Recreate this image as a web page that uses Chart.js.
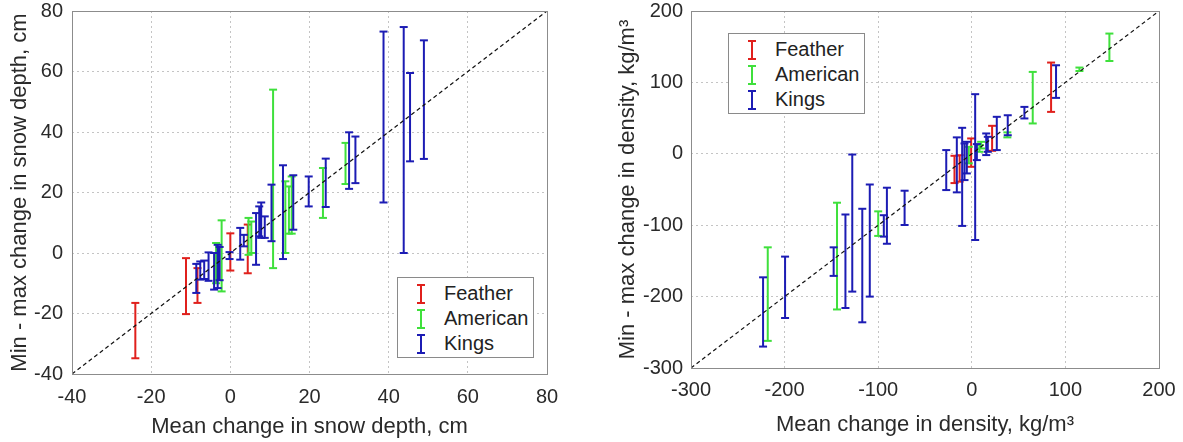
<!DOCTYPE html>
<html>
<head>
<meta charset="utf-8">
<script src="https://cdn.jsdelivr.net/npm/chart.js@4/dist/chart.umd.min.js"></script>
<style>
  body { margin: 0; background: #fff; font-family: "Liberation Sans", Arial, sans-serif; }
  #wrap { position: relative; width: 1183px; height: 442px; }
  canvas { position: absolute; top: 0; }
  .legend { position: absolute; background: #fff; border: 1px solid #8a8a8a; box-sizing: border-box;
            font-size: 20px; color: #222; }
  .legend div { position: absolute; height: 25px; line-height: 25px; white-space: nowrap; }
  .legend svg { position: absolute; top: 3px; }
  .legend span { position: absolute; }
</style>
</head>
<body>
<div id="wrap">
  <canvas id="depth" width="590" height="442" style="left:0"></canvas>
  <canvas id="density" width="593" height="442" style="left:590px"></canvas>
  <div class="legend" id="legDepth" style="left:397px;top:277px;width:137px;height:81px"></div>
  <div class="legend" id="legDensity" style="left:728px;top:33px;width:137px;height:81px"></div>
</div>
<script>
// snow depth panel (cm): mean, max, min for each bar
const depthFeatherMean = [-24, -11.2, -8.3, 0, 4.4];
const depthFeatherMax  = [-16.5, -1.7, -5, 6.5, 9.4];
const depthFeatherMin  = [-34.8, -20.2, -16.5, -5.8, -6.7];

const depthAmericanMean = [-3.6, -2.2, 4.6, 5.3, 10.8, 13.9, 14.8, 15.5, 23.4, 29.1];
const depthAmericanMax  = [3.3, 10.8, 11.6, 10.4, 54, 23.7, 22, 25.3, 28.1, 36.4];
const depthAmericanMin  = [-10, -12.7, -0.6, 0, -5, 0, 6.4, 6.4, 11.6, 22.8];

const depthKingsMean = [-8.6, -7.6, -6.6, -5.5, -4.1, -3.2, -2.7, -0.2, 2.5, 3.4, 6.5, 7.3, 7.8, 8.7, 10.4, 13.3, 15.9, 19.8, 24.1, 30, 31.6, 38.7, 43.8, 45.4, 48.9];
const depthKingsMax  = [-3.6, -2.8, -2.5, 0.2, 0, 2.7, 2, 0.3, 8.3, 6, 13.2, 15.4, 16.7, 12.1, 22.6, 29, 25.7, 25.3, 31.2, 39.9, 38.5, 73.2, 74.7, 59.5, 70.3];
const depthKingsMin  = [-13.2, -8.8, -8.6, -9.2, -12.1, -11.6, -9, -2, -2.2, 2.2, -3.9, 5.5, 5, 5, 3.9, -2, 7.7, 15.4, 15.2, 21.2, 23.1, 16.7, 0, 30.3, 31.1];

// density panel (kg/m3)
const densFeatherMean = [-18.5, -13, -0.7, 21.7, 84.7];
const densFeatherMax  = [-2.8, -2, 21.5, 39.2, 127.8];
const densFeatherMin  = [-41, -39, -18.2, 4.2, 58.7];

const densAmericanMean = [-218, -144, -100, -3.2, 8.2, 10, 38, 65.1, 115, 147];
const densAmericanMax  = [-131, -68.5, -80.6, 9.8, 12.2, 16.8, 30, 114.7, 120.8, 168.4];
const densAmericanMin  = [-262, -218, -115, -13.4, 2.8, 7.5, 23, 42.5, 116, 130];

const densKingsMean = [-223, -199.5, -147.6, -135, -127.7, -117, -109, -94, -90.7, -71.8, -27.3, -16, -10.3, -7.8, -5.3, 3.6, 5.4, 15.4, 17.1, 26.7, 38.4, 56.2, 90];
const densKingsMax  = [-173, -144, -131, -85, -1, -77, -43, -86, -47.5, -51.7, 5.2, 23, 36.4, 14.5, 16.8, 83.5, 13.6, 28.5, 23.8, 51.8, 54, 65.7, 124];
const densKingsMin  = [-270, -230, -171, -216, -193, -236, -200, -116, -126, -99.7, -50.8, -54, -101, -36.8, -27.5, -120.7, -8.8, -1.8, 2.8, 5.2, 26, 49.5, 78.3];

const seriesNames = ['Feather', 'American', 'Kings'];
const seriesColors = ['#e0201c', '#3fe03c', '#1c1cb4'];

const depthTicks = [-40, -20, 0, 20, 40, 60, 80];
const densTicks = [-300, -200, -100, 0, 100, 200];

// each bar: (mean,max) -> (mean,min) then a gap
function bars(mean, max, min) {
    const pts = [];
    for (let i = 0; i < mean.length; i++) {
        pts.push({x: mean[i], y: max[i]});
        pts.push({x: mean[i], y: min[i]});
        pts.push({x: mean[i], y: null});
    }
    return pts;
}

function barSet(label, color, data) {
    return {
        label: label,
        data: data,
        showLine: true,
        spanGaps: false,
        borderColor: color,
        borderWidth: 2,
        pointStyle: 'line',
        pointRadius: 4,
        pointBorderWidth: 2,
        pointBorderColor: color,
        pointBackgroundColor: color
    };
}

function oneToOne(lo, hi) {
    return {
        label: '1:1',
        data: [{x: lo, y: lo}, {x: hi, y: hi}],
        showLine: true,
        borderColor: '#111',
        borderWidth: 1.2,
        borderDash: [4, 3],
        pointRadius: 0
    };
}

const frame = {
    id: 'frame',
    afterDraw(chart) {
        const a = chart.chartArea;
        const ctx = chart.ctx;
        ctx.save();
        ctx.strokeStyle = '#8c8c8c';
        ctx.lineWidth = 1;
        ctx.strokeRect(Math.round(a.left) + 0.5, Math.round(a.top) + 0.5,
                       Math.round(a.right - a.left), Math.round(a.bottom - a.top));
        ctx.restore();
    }
};

function axis(ticks, title, size, titlePad, tickPad, isX) {
    return {
        type: 'linear',
        min: ticks[0],
        max: ticks[ticks.length - 1],
        afterBuildTicks: s => { s.ticks = ticks.map(v => ({value: v})); },
        afterFit: s => {
            if (isX) s.height = size; else s.width = size;
            s.paddingLeft = 0; s.paddingRight = 0; s.paddingTop = 0; s.paddingBottom = 0;
        },
        grid: { color: '#c4c4c4', lineWidth: 1, drawTicks: false },
        border: { display: false, dash: [2, 3] },
        ticks: {
            color: '#2a2a2a',
            padding: tickPad,
            maxRotation: 0,
            font: { family: 'Liberation Sans', size: 20 }
        },
        title: {
            display: true,
            text: title,
            color: '#2a2a2a',
            padding: titlePad,
            font: { family: 'Liberation Sans', size: 22 }
        }
    };
}

function makeChart(id, sets, xTicks, yTicks, xTitle, yTitle, dims) {
    return new Chart(document.getElementById(id), {
        type: 'scatter',
        data: { datasets: sets },
        options: {
            responsive: false,
            animation: false,
            layout: { padding: { top: dims.top, right: dims.right, left: 0, bottom: 0 } },
            plugins: { legend: { display: false }, tooltip: { enabled: false } },
            scales: {
                x: axis(xTicks, xTitle, dims.xh, {top: 0, bottom: dims.xtp}, dims.xlp, true),
                y: axis(yTicks, yTitle, dims.yw, {top: dims.ytp, bottom: 0}, dims.ylp, false)
            }
        },
        plugins: [frame]
    });
}

makeChart('depth', [
    oneToOne(-40, 80),
    barSet('Kings', seriesColors[2], bars(depthKingsMean, depthKingsMax, depthKingsMin)),
    barSet('American', seriesColors[1], bars(depthAmericanMean, depthAmericanMax, depthAmericanMin)),
    barSet('Feather', seriesColors[0], bars(depthFeatherMean, depthFeatherMax, depthFeatherMin))
], depthTicks, depthTicks, 'Mean change in snow depth, cm', 'Min - max change in snow depth, cm',
   {top: 11, right: 43, xh: 68, yw: 72, xtp: 2, ytp: 7, xlp: 11, ylp: 9});

makeChart('density', [
    oneToOne(-300, 200),
    barSet('Kings', seriesColors[2], bars(densKingsMean, densKingsMax, densKingsMin)),
    barSet('American', seriesColors[1], bars(densAmericanMean, densAmericanMax, densAmericanMin)),
    barSet('Feather', seriesColors[0], bars(densFeatherMean, densFeatherMax, densFeatherMin))
], densTicks, densTicks, 'Mean change in density, kg/m³', 'Min - max change in density, kg/m³',
   {top: 11, right: 24, xh: 74, yw: 101, xtp: 4, ytp: 25, xlp: 10, ylp: 8});

// legends inside the plot boxes
function fillLegend(id, iconLeft, textLeft) {
    const box = document.getElementById(id);
    seriesNames.forEach((name, i) => {
        const row = document.createElement('div');
        row.style.top = (3 + i * 25) + 'px';
        row.style.left = '0px';
        const c = seriesColors[i];
        row.innerHTML =
            '<svg width="10" height="20" style="left:' + iconLeft + 'px">' +
            '<line x1="1" y1="1" x2="9" y2="1" stroke="' + c + '" stroke-width="2"/>' +
            '<line x1="5" y1="1" x2="5" y2="19" stroke="' + c + '" stroke-width="2"/>' +
            '<line x1="1" y1="19" x2="9" y2="19" stroke="' + c + '" stroke-width="2"/></svg>' +
            '<span style="left:' + textLeft + 'px">' + name + '</span>';
        box.appendChild(row);
    });
}
fillLegend('legDepth', 18, 46);
fillLegend('legDensity', 18, 46);
</script>
</body>
</html>
